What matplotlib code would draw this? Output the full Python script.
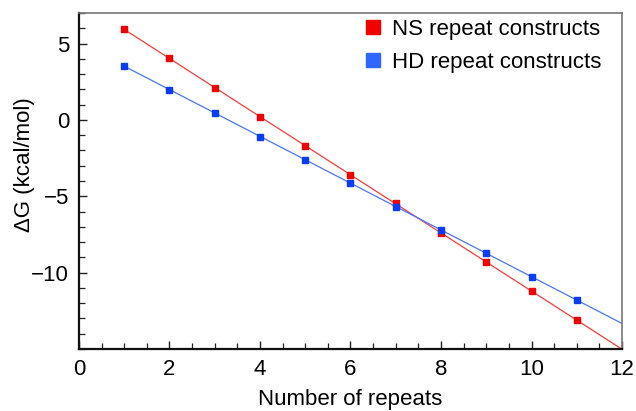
import numpy as np
import matplotlib
matplotlib.use("Agg")
import matplotlib.pyplot as plt
from matplotlib.lines import Line2D

plt.rcParams['font.family'] = ['Liberation Sans', 'DejaVu Sans']

# datos
repeats = [1, 2, 3, 4, 5, 6, 7, 8, 9, 10, 11]
dg_ns = [5.94, 4.02, 2.12, 0.20, -1.70, -3.60, -5.46, -7.42, -9.32, -11.20, -13.10]
dg_hd = [3.54, 1.99, 0.44, -1.09, -2.62, -4.15, -5.68, -7.20, -8.73, -10.26, -11.79]
fit_range = [1, 12]

labels = ["NS repeat constructs", "HD repeat constructs"]
col_ns = "#f00000"
col_hd = "#0a3cf5"
line_ns = "#ff3a3a"
line_hd = "#4a74ff"

fig = plt.figure(figsize=(6.36, 4.11), dpi=100)
ax = fig.add_axes([0.1242, 0.1509, 0.8538, 0.8175])

x_fit = np.array(fit_range, dtype=float)
for x, y, c_m, c_l in [(repeats, dg_ns, col_ns, line_ns), (repeats, dg_hd, col_hd, line_hd)]:
    m, b = np.polyfit(x, y, 1)
    ax.plot(x_fit, m * x_fit + b, color=c_l, lw=0.9, zorder=2)
    ax.plot(x, y, 's', color=c_m, ms=4.6, mec=c_m, zorder=3)

ax.set_xlim(0, 12)
ax.set_ylim(-15, 7)
ax.set_xticks([0, 2, 4, 6, 8, 10, 12])
ax.set_yticks([-10, -5, 0, 5])
ax.set_yticklabels(["\u221210", "\u22125", "0", "5"])
ax.set_xticks(np.arange(0, 12.01, 0.5), minor=True)
ax.set_yticks(np.arange(-15, 7.01, 1), minor=True)
ax.tick_params(which='both', direction='in', labelsize=16, color='#222222')
ax.tick_params(which='major', length=6, width=1.0, pad=7)
ax.tick_params(which='minor', length=4, width=0.9)
ax.tick_params(axis='x', which='both', top=False)
ax.tick_params(axis='y', which='both', right=False)

for s in ['left', 'bottom']:
    ax.spines[s].set_color('#111111')
    ax.spines[s].set_linewidth(1.6)
for s in ['top', 'right']:
    ax.spines[s].set_color('#777777')
    ax.spines[s].set_linewidth(1.2)

ax.set_xlabel("Number of repeats", fontsize=16, labelpad=7)
ax.set_ylabel("\u0394G (kcal/mol)", fontsize=16)
ax.yaxis.set_label_coords(-0.081, 0.548)

handles = [Line2D([], [], ls='none', marker='s', ms=9.5, color=col_ns),
           Line2D([], [], ls='none', marker='s', ms=9.5, color="#2f66ff")]
ax.legend(handles, labels, loc='upper right', bbox_to_anchor=(0.991, 1.029),
          frameon=False, fontsize=16, handletextpad=0.35, labelspacing=0.55,
          handlelength=1.0, borderaxespad=0.3)

fig.savefig("out.png", dpi=100)
